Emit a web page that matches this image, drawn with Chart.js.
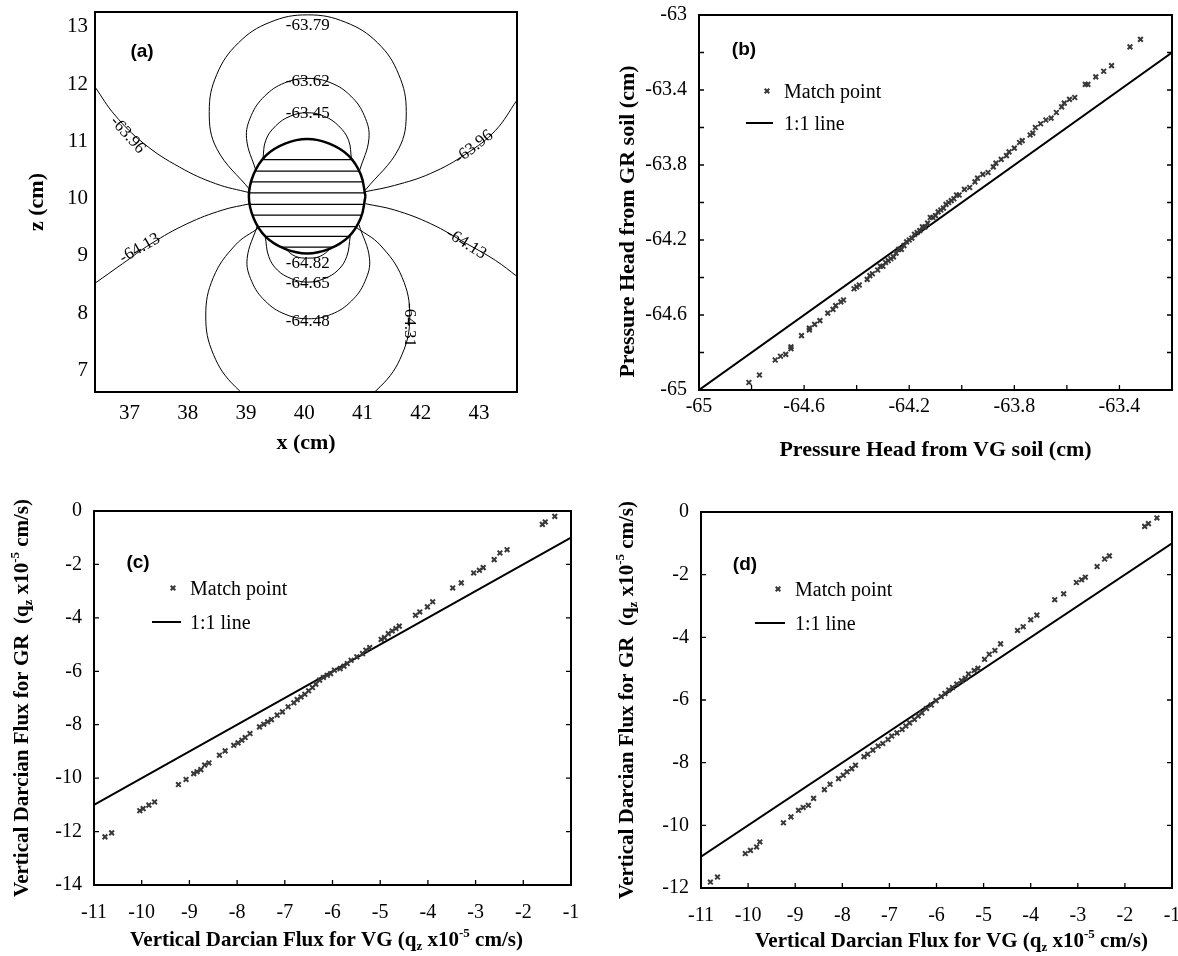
<!DOCTYPE html>
<html>
<head>
<meta charset="utf-8">
<script src="https://cdn.jsdelivr.net/npm/chart.js@4.4.0/dist/chart.umd.min.js"></script>
<style>
body { margin: 0; background: #fff; }
canvas { position: absolute; }
</style>
</head>
<body>
<canvas id="pa" width="589" height="478" style="left:0;top:0"></canvas>
<canvas id="pb" width="589" height="478" style="left:589px;top:0"></canvas>
<canvas id="pc" width="589" height="478" style="left:0;top:478px"></canvas>
<canvas id="pd" width="589" height="478" style="left:589px;top:478px"></canvas>
<script>
var SERIF = '"Liberation Serif", "Times New Roman", serif';
var SANS = '"Liberation Sans", Arial, sans-serif';

// ---- (a) contour map, points as [x, z] ----
var inclusion = [[41.05,10.04],[40.97,10.42],[40.76,10.75],[40.43,10.96],[40.05,11.04],[39.67,10.96],[39.34,10.75],[39.13,10.42],[39.05,10.04],[39.13,9.66],[39.34,9.33],[39.67,9.12],[40.05,9.04],[40.43,9.12],[40.76,9.33],[40.97,9.66],[41.05,10.04]];
var hatchZ = [10.68, 10.48, 10.29, 10.10, 9.90, 9.71, 9.51, 9.34, 9.15];
var hatchFrom = [39.28, 39.15, 39.08, 39.05, 39.06, 39.11, 39.20, 39.34, 39.59];
var hatchTo = [40.82, 40.95, 41.02, 41.05, 41.04, 40.99, 40.90, 40.76, 40.51];

var h6345 = [[39.29,10.69],[39.34,11.02],[39.51,11.27],[39.76,11.44],[40.05,11.50],[40.34,11.44],[40.59,11.27],[40.76,11.02],[40.81,10.69]];
var h6362 = [[39.17,10.49],[39.01,11.05],[39.09,11.45],[39.32,11.79],[39.66,12.02],[40.06,12.10],[40.46,12.02],[40.80,11.79],[41.03,11.45],[41.11,11.05],[40.95,10.49]];
var h6379 = [[39.07,10.15],[38.50,10.87],[38.37,11.52],[38.50,12.17],[38.87,12.72],[39.41,13.08],[40.06,13.21],[40.71,13.08],[41.26,12.72],[41.62,12.17],[41.75,11.52],[41.62,10.87],[41.05,10.15]];
var h6482 = [[39.66,9.13],[39.85,8.99],[40.06,8.96],[40.27,8.99],[40.46,9.13]];
var h6465 = [[40.79,9.35],[40.73,8.99],[40.58,8.75],[40.34,8.60],[40.06,8.54],[39.78,8.60],[39.54,8.75],[39.39,8.99],[39.33,9.35]];
var h6448 = [[40.94,9.54],[41.12,8.95],[41.04,8.55],[40.81,8.21],[40.47,7.98],[40.07,7.90],[39.67,7.98],[39.33,8.21],[39.10,8.55],[39.02,8.95],[39.20,9.54]];
var h6431 = [[40.90,9.49],[41.30,9.19],[41.68,8.62],[41.81,7.95],[41.68,7.28],[41.30,6.71],[40.73,6.33],[40.06,6.20],[39.39,6.33],[38.82,6.71],[38.44,7.28],[38.31,7.95],[38.44,8.62],[38.82,9.19],[39.22,9.49]];
var h6396L = [[36.41,11.95],[36.75,11.46],[37.25,10.96],[37.86,10.55],[38.48,10.26],[39.07,10.10]];
var h6396R = [[41.05,10.12],[41.55,10.23],[42.17,10.44],[42.79,10.79],[43.28,11.19],[43.65,11.72]];
var h6413L = [[36.41,8.52],[36.88,8.86],[37.37,9.21],[37.99,9.56],[38.60,9.80],[39.07,9.91]];
var h6413R = [[41.05,9.91],[41.55,9.80],[42.17,9.56],[42.79,9.21],[43.28,8.92],[43.65,8.64]];

var contourTags = [
  { text: '-63.79', x: 40.06, y: 13.03, rot: 0 },
  { text: '-63.62', x: 40.06, y: 12.05, rot: 0 },
  { text: '-63.45', x: 40.06, y: 11.49, rot: 0 },
  { text: '-63.96', x: 36.97, y: 11.11, rot: 48 },
  { text: '-63.96', x: 42.91, y: 10.90, rot: -38 },
  { text: '-64.13', x: 37.18, y: 9.13, rot: -30 },
  { text: '-64.13', x: 42.78, y: 9.21, rot: 32 },
  { text: '-64.82', x: 40.06, y: 8.86, rot: 0 },
  { text: '-64.65', x: 40.06, y: 8.51, rot: 0 },
  { text: '-64.48', x: 40.06, y: 7.86, rot: 0 },
  { text: '-64.31', x: 41.80, y: 7.79, rot: 90 }
];

// ---- (b) pressure head, VG soil vs GR soil ----
var bVG = [-64.81,-64.77,-64.71,-64.69,-64.67,-64.65,-64.65,-64.61,-64.58,-64.58,
  -64.56,-64.54,-64.51,-64.49,-64.48,-64.46,-64.45,-64.41,-64.40,-64.39,
  -64.36,-64.35,-64.34,-64.32,-64.31,-64.29,-64.28,-64.26,-64.25,-64.24,
  -64.22,-64.21,-64.19,-64.17,-64.16,-64.14,-64.13,-64.12,-64.10,-64.09,
  -64.07,-64.06,-64.04,-64.03,-64.01,-63.99,-63.97,-63.95,-63.94,-63.92,
  -63.90,-63.88,-63.87,-63.85,-63.83,-63.82,-63.80,-63.78,-63.77,-63.74,
  -63.73,-63.72,-63.70,-63.68,-63.66,-63.64,-63.62,-63.61,-63.59,-63.57,
  -63.53,-63.52,-63.49,-63.46,-63.43,-63.36,-63.32,
  -64.30,-64.27,-64.23,-64.20,-64.18,-64.15,-64.11,-64.08,-64.05,-64.02];
var bGR = [-64.96,-64.92,-64.84,-64.82,-64.81,-64.78,-64.77,-64.71,-64.68,-64.67,
  -64.65,-64.63,-64.59,-64.57,-64.55,-64.53,-64.52,-64.46,-64.45,-64.44,
  -64.41,-64.39,-64.38,-64.36,-64.34,-64.32,-64.31,-64.29,-64.27,-64.25,
  -64.23,-64.21,-64.19,-64.16,-64.15,-64.13,-64.11,-64.08,-64.07,-64.05,
  -64.03,-64.01,-63.99,-63.98,-63.96,-63.93,-63.92,-63.89,-63.87,-63.85,
  -63.84,-63.81,-63.79,-63.77,-63.75,-63.73,-63.71,-63.68,-63.67,-63.64,
  -63.63,-63.60,-63.58,-63.56,-63.55,-63.52,-63.49,-63.47,-63.45,-63.44,
  -63.37,-63.37,-63.33,-63.30,-63.27,-63.17,-63.13,
  -64.34,-64.30,-64.25,-64.20,-64.17,-64.13,-64.08,-64.04,-64.00,-63.96];
var bOneToOne = [-65, -63.2];

// ---- (c) vertical Darcian flux ----
var cVG = [-10.77,-10.63,-10.04,-9.97,-9.85,-9.73,-9.23,-9.07,-8.91,-8.84,
  -8.76,-8.68,-8.59,-8.37,-8.25,-8.07,-7.98,-7.90,-7.83,-7.73,
  -7.53,-7.44,-7.36,-7.28,-7.16,-7.05,-6.93,-6.81,-6.74,-6.66,
  -6.58,-6.50,-6.42,-6.35,-6.27,-6.19,-6.11,-6.04,-5.96,-5.84,
  -5.76,-5.69,-5.61,-5.49,-5.37,-5.30,-5.22,-4.98,-4.91,-4.83,
  -4.75,-4.67,-4.60,-4.26,-4.17,-4.01,-3.90,-3.48,-3.30,-3.04,
  -2.92,-2.84,-2.61,-2.49,-2.34,-1.60,-1.54,-1.34];
var cGR = [-12.20,-12.05,-11.22,-11.14,-11.01,-10.89,-10.24,-10.05,-9.83,-9.76,
  -9.68,-9.51,-9.43,-9.14,-8.98,-8.77,-8.68,-8.58,-8.48,-8.33,
  -8.08,-7.98,-7.89,-7.81,-7.64,-7.52,-7.33,-7.18,-7.06,-6.96,
  -6.86,-6.73,-6.61,-6.48,-6.33,-6.23,-6.15,-6.09,-5.96,-5.90,
  -5.81,-5.71,-5.59,-5.46,-5.34,-5.21,-5.11,-4.81,-4.74,-4.59,
  -4.49,-4.40,-4.31,-3.90,-3.78,-3.59,-3.40,-2.88,-2.69,-2.32,
  -2.22,-2.12,-1.82,-1.57,-1.45,-0.50,-0.41,-0.20];

// ---- (d) vertical Darcian flux ----
var dVG = [-10.80,-10.65,-10.06,-9.95,-9.82,-9.75,-9.25,-9.09,-8.93,-8.83,
  -8.72,-8.61,-8.38,-8.26,-8.08,-7.98,-7.90,-7.80,-7.72,-7.54,
  -7.46,-7.35,-7.24,-7.14,-7.03,-6.95,-6.84,-6.73,-6.65,-6.57,
  -6.47,-6.39,-6.31,-6.21,-6.11,-6.01,-5.90,-5.82,-5.74,-5.66,
  -5.57,-5.47,-5.39,-5.32,-5.20,-5.12,-4.98,-4.88,-4.76,-4.64,
  -4.28,-4.16,-4.00,-3.87,-3.49,-3.30,-3.03,-2.92,-2.84,-2.59,
  -2.43,-2.33,-1.58,-1.50,-1.32];
var dGR = [-11.81,-11.65,-10.90,-10.80,-10.69,-10.53,-9.92,-9.73,-9.52,-9.43,
  -9.36,-9.14,-8.86,-8.69,-8.51,-8.40,-8.29,-8.19,-8.08,-7.81,
  -7.73,-7.60,-7.47,-7.39,-7.26,-7.15,-7.05,-6.94,-6.83,-6.73,
  -6.62,-6.51,-6.41,-6.27,-6.16,-6.02,-5.89,-5.79,-5.68,-5.60,
  -5.49,-5.38,-5.31,-5.17,-5.06,-4.99,-4.70,-4.54,-4.42,-4.21,
  -3.78,-3.66,-3.44,-3.29,-2.80,-2.61,-2.25,-2.16,-2.08,-1.74,
  -1.50,-1.40,-0.46,-0.37,-0.19];
var fluxOneToOne = [-11, -1];

var fluxTitleX = [['Vertical Darcian Flux for VG (q', 0], ['z', 1], [' x10', 0], ['-5', 2], [' cm/s)', 0]];
var fluxTitleY = [['Vertical Darcian Flux for GR  (q', 0], ['z', 1], [' x10', 0], ['-5', 2], [' cm/s)', 0]];

function pairs(xs, ys) { return xs.map(function (x, i) { return { x: x, y: ys[i] }; }); }
function path(arr) { return arr.map(function (p) { return { x: p[0], y: p[1] }; }); }

function curve(arr, w) {
  return { data: path(arr), showLine: true, pointRadius: 0, borderColor: '#000', borderWidth: w || 1, tension: 0.4, fill: false };
}
function matchSet(xs, ys) {
  return { data: pairs(xs, ys), pointStyle: 'crossRot', pointRadius: 3.3, borderWidth: 2, borderColor: '#383838', backgroundColor: '#383838' };
}
function oneToOne(r) {
  return { data: pairs(r, r), showLine: true, pointRadius: 0, borderColor: '#000', borderWidth: 2, tension: 0 };
}

function axis(min, max, step, pad, size, horiz, fsize, label, bounds) {
  return {
    type: 'linear', min: min, max: max,
    grid: { display: false, drawTicks: false },
    border: { display: false },
    ticks: { stepSize: step, padding: pad, autoSkip: false, maxRotation: 0, color: '#000', includeBounds: bounds !== false,
      font: { family: SERIF, size: fsize }, callback: label || function (v) { return String(Math.round(v * 10) / 10); } },
    afterFit: function (s) {
      if (horiz) { s.height = size; s.paddingLeft = 0; s.paddingRight = 0; }
      else { s.width = size; s.paddingTop = 0; s.paddingBottom = 0; }
    }
  };
}

function everyFourth(v) {
  return Math.round((v + 65) * 10) % 4 === 0 ? String(Math.round(v * 10) / 10) : '';
}

function rich(ctx, parts, cx, cy, rot, size) {
  var fonts = parts.map(function (p) { return 'bold ' + (p[1] ? Math.round(size * 0.62) : size) + 'px ' + SERIF; });
  var widths = [], total = 0;
  parts.forEach(function (p, i) { ctx.font = fonts[i]; var w = ctx.measureText(p[0]).width; widths.push(w); total += w; });
  ctx.save();
  ctx.translate(cx, cy);
  ctx.rotate(rot);
  ctx.textBaseline = 'middle';
  ctx.textAlign = 'left';
  var x = -total / 2;
  parts.forEach(function (p, i) {
    ctx.font = fonts[i];
    var off = p[1] === 1 ? size * 0.28 : (p[1] === 2 ? -size * 0.36 : 0);
    ctx.fillText(p[0], x, off);
    x += widths[i];
  });
  ctx.restore();
}

var decor = {
  id: 'decor',
  afterDraw: function (chart, args, o) {
    var ctx = chart.ctx, a = chart.chartArea, sx = chart.scales.x, sy = chart.scales.y;
    ctx.save();
    ctx.fillStyle = '#000';
    ctx.strokeStyle = '#000';
    // contour labels
    (o.notes || []).forEach(function (n) {
      ctx.save();
      ctx.translate(sx.getPixelForValue(n.x), sy.getPixelForValue(n.y));
      ctx.rotate(n.rot * Math.PI / 180);
      ctx.font = '17px ' + SERIF;
      ctx.textAlign = 'center';
      ctx.textBaseline = 'middle';
      ctx.fillText(n.text, 0, 0);
      ctx.restore();
    });
    // inward ticks
    if (o.tick) {
      ctx.lineWidth = 1.3;
      ctx.beginPath();
      sx.ticks.forEach(function (t) { var p = sx.getPixelForValue(t.value); ctx.moveTo(p, a.bottom); ctx.lineTo(p, a.bottom - o.tick); });
      sy.ticks.forEach(function (t) {
        var p = sy.getPixelForValue(t.value);
        ctx.moveTo(a.left, p); ctx.lineTo(a.left + o.tick, p);
        ctx.moveTo(a.right, p); ctx.lineTo(a.right - o.tick, p);
      });
      ctx.stroke();
    }
    ctx.lineWidth = 2;
    ctx.strokeRect(a.left, a.top, a.width, a.height);
    // panel tag
    ctx.font = 'bold 19px ' + SANS;
    ctx.textAlign = 'center';
    ctx.textBaseline = 'middle';
    ctx.fillText(o.tag[0], a.left + o.tag[1], a.top + o.tag[2]);
    // legend
    if (o.legend) {
      var L = o.legend, mx = a.left + L.mx, my = a.top + L.my;
      ctx.strokeStyle = '#383838';
      ctx.lineWidth = 2;
      ctx.beginPath();
      ctx.moveTo(mx - 2.3, my - 2.3); ctx.lineTo(mx + 2.3, my + 2.3);
      ctx.moveTo(mx - 2.3, my + 2.3); ctx.lineTo(mx + 2.3, my - 2.3);
      ctx.stroke();
      ctx.strokeStyle = '#000';
      ctx.lineWidth = 2;
      ctx.beginPath();
      ctx.moveTo(a.left + L.l0, a.top + L.ly); ctx.lineTo(a.left + L.l1, a.top + L.ly);
      ctx.stroke();
      ctx.font = '20px ' + SERIF;
      ctx.textAlign = 'left';
      ctx.fillText('Match point', a.left + L.tx, my + 2);
      ctx.fillText('1:1 line', a.left + L.tx, a.top + L.ly + 2);
    }
    // axis titles
    var T = o.titles;
    rich(ctx, T.x, (a.left + a.right) / 2 + (T.xShift || 0), a.bottom + T.xOff, 0, T.size);
    rich(ctx, T.y, a.left - T.yOff, (a.top + a.bottom) / 2 + (T.yShift || 0), -Math.PI / 2, T.size);
    ctx.restore();
  }
};

function base(pad, scales, decorOpts) {
  return {
    responsive: false, animation: false, events: [],
    layout: { padding: pad },
    scales: scales,
    plugins: { legend: { display: false }, tooltip: { enabled: false }, decor: decorOpts }
  };
}

// (a)
var aSets = [h6379, h6362, h6345, h6482, h6465, h6448, h6431, h6396L, h6396R, h6413L, h6413R].map(function (c) { return curve(c, 1); });
hatchZ.forEach(function (z, i) { aSets.push(curve([[hatchFrom[i], z], [hatchTo[i], z]], 1.2)); });
aSets.push(curve(inclusion, 2.5));

new Chart(document.getElementById('pa'), {
  type: 'scatter',
  data: { datasets: aSets },
  options: base({ left: 0, top: 12, right: 72, bottom: 0 }, {
    x: axis(36.41, 43.65, 1, 9, 86, true, 21, null, false),
    y: axis(6.62, 13.26, 1, 7, 95, false, 21, null, false)
  }, {
    notes: contourTags, tick: 0, tag: ['(a)', 47, 40],
    titles: { x: [['x (cm)', 0]], y: [['z (cm)', 0]], size: 22, xOff: 51, yOff: 58 }
  }),
  plugins: [decor]
});

// (b)
new Chart(document.getElementById('pb'), {
  type: 'scatter',
  data: { datasets: [matchSet(bVG, bGR), oneToOne(bOneToOne)] },
  options: base({ left: 0, top: 15, right: 2, bottom: 0 }, {
    x: axis(-65, -63.2, 0.2, 5, 88, true, 20, everyFourth),
    y: axis(-65, -63, 0.2, 12, 110, false, 20, everyFourth)
  }, {
    tick: 5, tag: ['(b)', 45, 35],
    legend: { mx: 68, my: 76, l0: 47, l1: 74, ly: 108, tx: 85 },
    titles: { x: [['Pressure Head from VG soil (cm)', 0]], y: [['Pressure Head from GR soil (cm)', 0]], size: 22, xOff: 60, yOff: 71, yShift: 19 }
  }),
  plugins: [decor]
});

// (c)
new Chart(document.getElementById('pc'), {
  type: 'scatter',
  data: { datasets: [matchSet(cVG, cGR), oneToOne(fluxOneToOne)] },
  options: base({ left: 0, top: 33, right: 18, bottom: 0 }, {
    x: axis(-11, -1, 1, 16, 71, true, 20),
    y: axis(-14, 0, 2, 12, 94, false, 20)
  }, {
    tick: 5, tag: ['(c)', 44, 52],
    legend: { mx: 79, my: 77, l0: 58, l1: 87, ly: 111, tx: 96 },
    titles: { x: fluxTitleX, y: fluxTitleY, size: 21, xOff: 56, xShift: -6, yOff: 71 }
  }),
  plugins: [decor]
});

// (d)
new Chart(document.getElementById('pd'), {
  type: 'scatter',
  data: { datasets: [matchSet(dVG, dGR), oneToOne(fluxOneToOne)] },
  options: base({ left: 0, top: 34, right: 1, bottom: 0 }, {
    x: axis(-11, -1, 1, 16, 68, true, 20),
    y: axis(-12, 0, 2, 12, 112, false, 20)
  }, {
    tick: 5, tag: ['(d)', 44, 53],
    legend: { mx: 77, my: 77, l0: 54, l1: 84, ly: 111, tx: 94 },
    titles: { x: fluxTitleX, y: fluxTitleY, size: 21, xOff: 54, xShift: 15, yOff: 73 }
  }),
  plugins: [decor]
});
</script>
</body>
</html>
